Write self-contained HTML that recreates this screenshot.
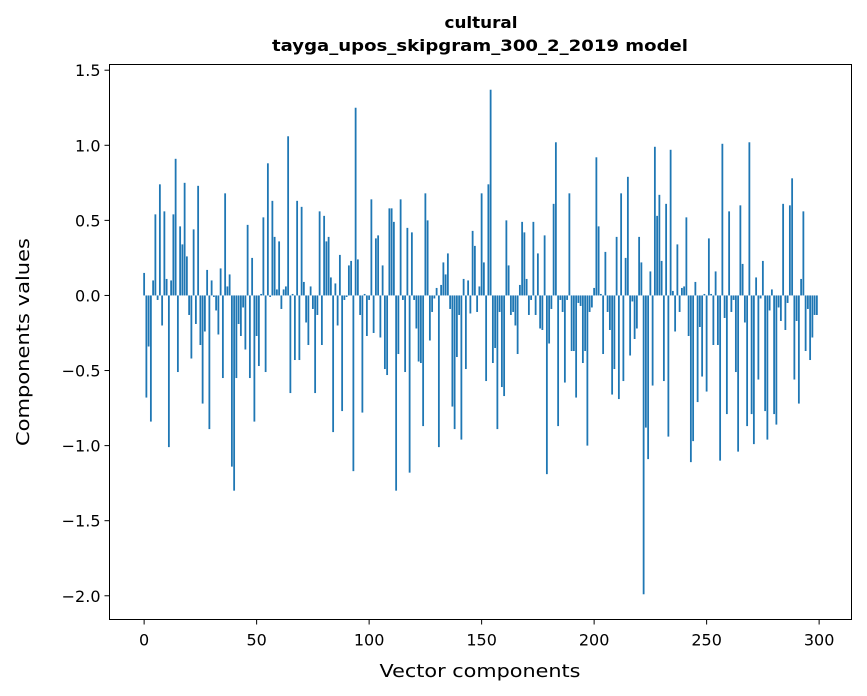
<!DOCTYPE html>
<html><head><meta charset="utf-8"><style>
body{margin:0;background:#fff;}
svg{display:block;font-family:"DejaVu Sans","Liberation Sans",sans-serif;}
</style></head><body>
<svg id="chart" width="867" height="696" viewBox="0 0 867 696" xmlns="http://www.w3.org/2000/svg">
<rect width="867" height="696" fill="#fff"/>
<text x="481" y="28" text-anchor="middle" font-size="16" font-weight="bold" textLength="73" lengthAdjust="spacingAndGlyphs">cultural</text>
<text x="480" y="51" text-anchor="middle" font-size="16" font-weight="bold" textLength="416" lengthAdjust="spacingAndGlyphs">tayga_upos_skipgram_300_2_2019 model</text>
<g id="bars"></g>
<g id="xaxis"></g>
<g id="yaxis"></g>
<rect x="109.5" y="64.5" width="742" height="555" fill="none" stroke="#000" stroke-width="1"/>
<text x="480" y="677" text-anchor="middle" font-size="18" textLength="201" lengthAdjust="spacingAndGlyphs">Vector components</text>
<text transform="translate(29,342) rotate(-90)" text-anchor="middle" font-size="18" textLength="208" lengthAdjust="spacingAndGlyphs">Components values</text>
</svg>
<script>
const values = [
0.15,-0.68,-0.34,-0.84,0.1,0.54,-0.03,0.74,-0.2,0.56,
0.11,-1.01,0.1,0.54,0.91,-0.51,0.46,0.34,0.75,0.26,
-0.13,-0.42,0.44,-0.19,0.73,-0.33,-0.72,-0.24,0.17,-0.89,
0.1,-0.01,-0.1,-0.26,0.18,-0.55,0.68,0.06,0.14,-1.14,
-1.3,-0.55,-0.19,-0.27,-0.08,-0.36,0.47,-0.55,0.25,-0.84,
-0.27,-0.47,0.01,0.52,-0.51,0.88,-0.01,0.63,0.39,0.04,
0.36,-0.09,0.04,0.06,1.06,-0.65,0.01,-0.43,0.63,-0.43,
0.59,0.09,-0.18,-0.33,0.06,-0.09,-0.65,-0.13,0.56,-0.33,
0.53,0.36,0.39,0.12,-0.91,0.08,-0.2,0.27,-0.77,-0.03,
-0.01,0.2,0.23,-1.17,1.25,0.24,-0.13,-0.78,0.01,-0.27,
-0.03,0.64,-0.25,0.38,0.4,-0.28,0.2,-0.49,-0.53,0.58,
0.58,0.49,-1.3,-0.39,0.64,-0.03,-0.51,0.45,-1.18,0.42,
-0.03,-0.22,-0.44,-0.45,-0.87,0.68,0.5,-0.3,-0.11,-0.02,
0.05,-1.01,0.07,0.22,0.14,0.28,-0.09,-0.74,-0.89,-0.41,
-0.13,-0.96,0.11,-0.49,0.1,-0.12,0.43,0.33,-0.11,0.06,
0.68,0.22,-0.57,0.74,1.37,-0.45,-0.35,-0.89,-0.11,-0.61,
-0.67,0.5,0.2,-0.13,-0.11,-0.2,-0.39,0.07,0.49,0.42,
0.11,-0.13,-0.03,0.49,-0.13,0.28,-0.22,-0.23,0.4,-1.19,
-0.32,-0.09,0.61,1.02,-0.87,-0.03,-0.11,-0.58,-0.03,0.68,
-0.37,-0.37,-0.68,-0.05,-0.07,-0.45,-0.37,-1.0,-0.11,-0.08,
0.05,0.92,0.46,0.01,-0.39,0.29,-0.11,-0.23,-0.66,-0.49,
0.39,-0.69,0.68,-0.57,0.25,0.79,-0.4,-0.04,-0.29,-0.22,
0.39,0.22,-1.99,-0.88,-1.09,0.16,-0.6,0.99,0.53,0.67,
0.23,-0.57,0.61,-0.94,0.97,0.03,-0.24,0.34,-0.11,0.05,
0.06,0.52,-0.27,-1.11,-0.97,0.09,-0.71,-0.21,-0.54,0.01,
-0.64,0.38,0.01,-0.33,0.16,-0.33,-1.1,1.01,-0.15,-0.79,
0.56,-0.11,-0.03,-0.51,-1.04,0.6,0.21,-0.18,-0.87,1.02,
-0.79,-0.99,0.12,-0.56,-0.02,0.23,-0.77,-0.96,-0.1,0.04,
-0.79,-0.86,-0.08,-0.17,0.61,-0.23,-0.05,0.6,0.78,-0.56,
-0.17,-0.72,0.11,0.56,-0.37,-0.09,-0.43,-0.28,-0.13,-0.13
];
const xTicks = [0,50,100,150,200,250,300];
const yTicks = [-2.0,-1.5,-1.0,-0.5,0.0,0.5,1.0,1.5];
const yTickLabels = ["\u22122.0","\u22121.5","\u22121.0","\u22120.5","0.0","0.5","1.0","1.5"];

const NS = "http://www.w3.org/2000/svg";
const L = 109.5, R = 851.5, T = 64.5, B = 619.5;
const n = values.length;
const xmin0 = -0.4, xmax0 = n - 1 + 0.4, xpad = (xmax0 - xmin0) * 0.05;
const xmin = xmin0 - xpad, xmax = xmax0 + xpad;
let vmin = Math.min(0, ...values), vmax = Math.max(0, ...values);
const ypad = (vmax - vmin) * 0.05;
const ymin = vmin - ypad, ymax = vmax + ypad;
function xs(v){ return L + (v - xmin) / (xmax - xmin) * (R - L); }
function ys(v){ return B - (v - ymin) / (ymax - ymin) * (B - T); }

const bars = document.getElementById('bars');
values.forEach((v, i) => {
  const r = document.createElementNS(NS, 'rect');
  const x0 = xs(i - 0.4), x1 = xs(i + 0.4);
  const y0 = ys(Math.max(v, 0)), y1 = ys(Math.min(v, 0));
  r.setAttribute('x', x0);
  r.setAttribute('width', x1 - x0);
  r.setAttribute('y', y0);
  r.setAttribute('height', Math.max(y1 - y0, 0.3));
  r.setAttribute('fill', '#1f77b4');
  
  
  bars.appendChild(r);
});

const xa = document.getElementById('xaxis');
xTicks.forEach(t => {
  const x = xs(t);
  const l = document.createElementNS(NS, 'line');
  l.setAttribute('x1', x); l.setAttribute('x2', x);
  l.setAttribute('y1', B); l.setAttribute('y2', B + 5);
  l.setAttribute('stroke', '#000');
  
  
  xa.appendChild(l);
  const tx = document.createElementNS(NS, 'text');
  tx.setAttribute('x', x); tx.setAttribute('y', B + 26);
  tx.setAttribute('text-anchor', 'middle');
  tx.setAttribute('font-size', '16');
  tx.textContent = String(t);
  
  
  xa.appendChild(tx);
});

const ya = document.getElementById('yaxis');
yTicks.forEach((t, k) => {
  const y = ys(t);
  const l = document.createElementNS(NS, 'line');
  l.setAttribute('x1', L - 5); l.setAttribute('x2', L);
  l.setAttribute('y1', y); l.setAttribute('y2', y);
  l.setAttribute('stroke', '#000');
  
  
  ya.appendChild(l);
  const tx = document.createElementNS(NS, 'text');
  tx.setAttribute('x', L - 9); tx.setAttribute('y', y + 6);
  tx.setAttribute('text-anchor', 'end');
  tx.setAttribute('font-size', '16');
  tx.textContent = yTickLabels[k];
  
  
  ya.appendChild(tx);
});
</script>
</body></html>
